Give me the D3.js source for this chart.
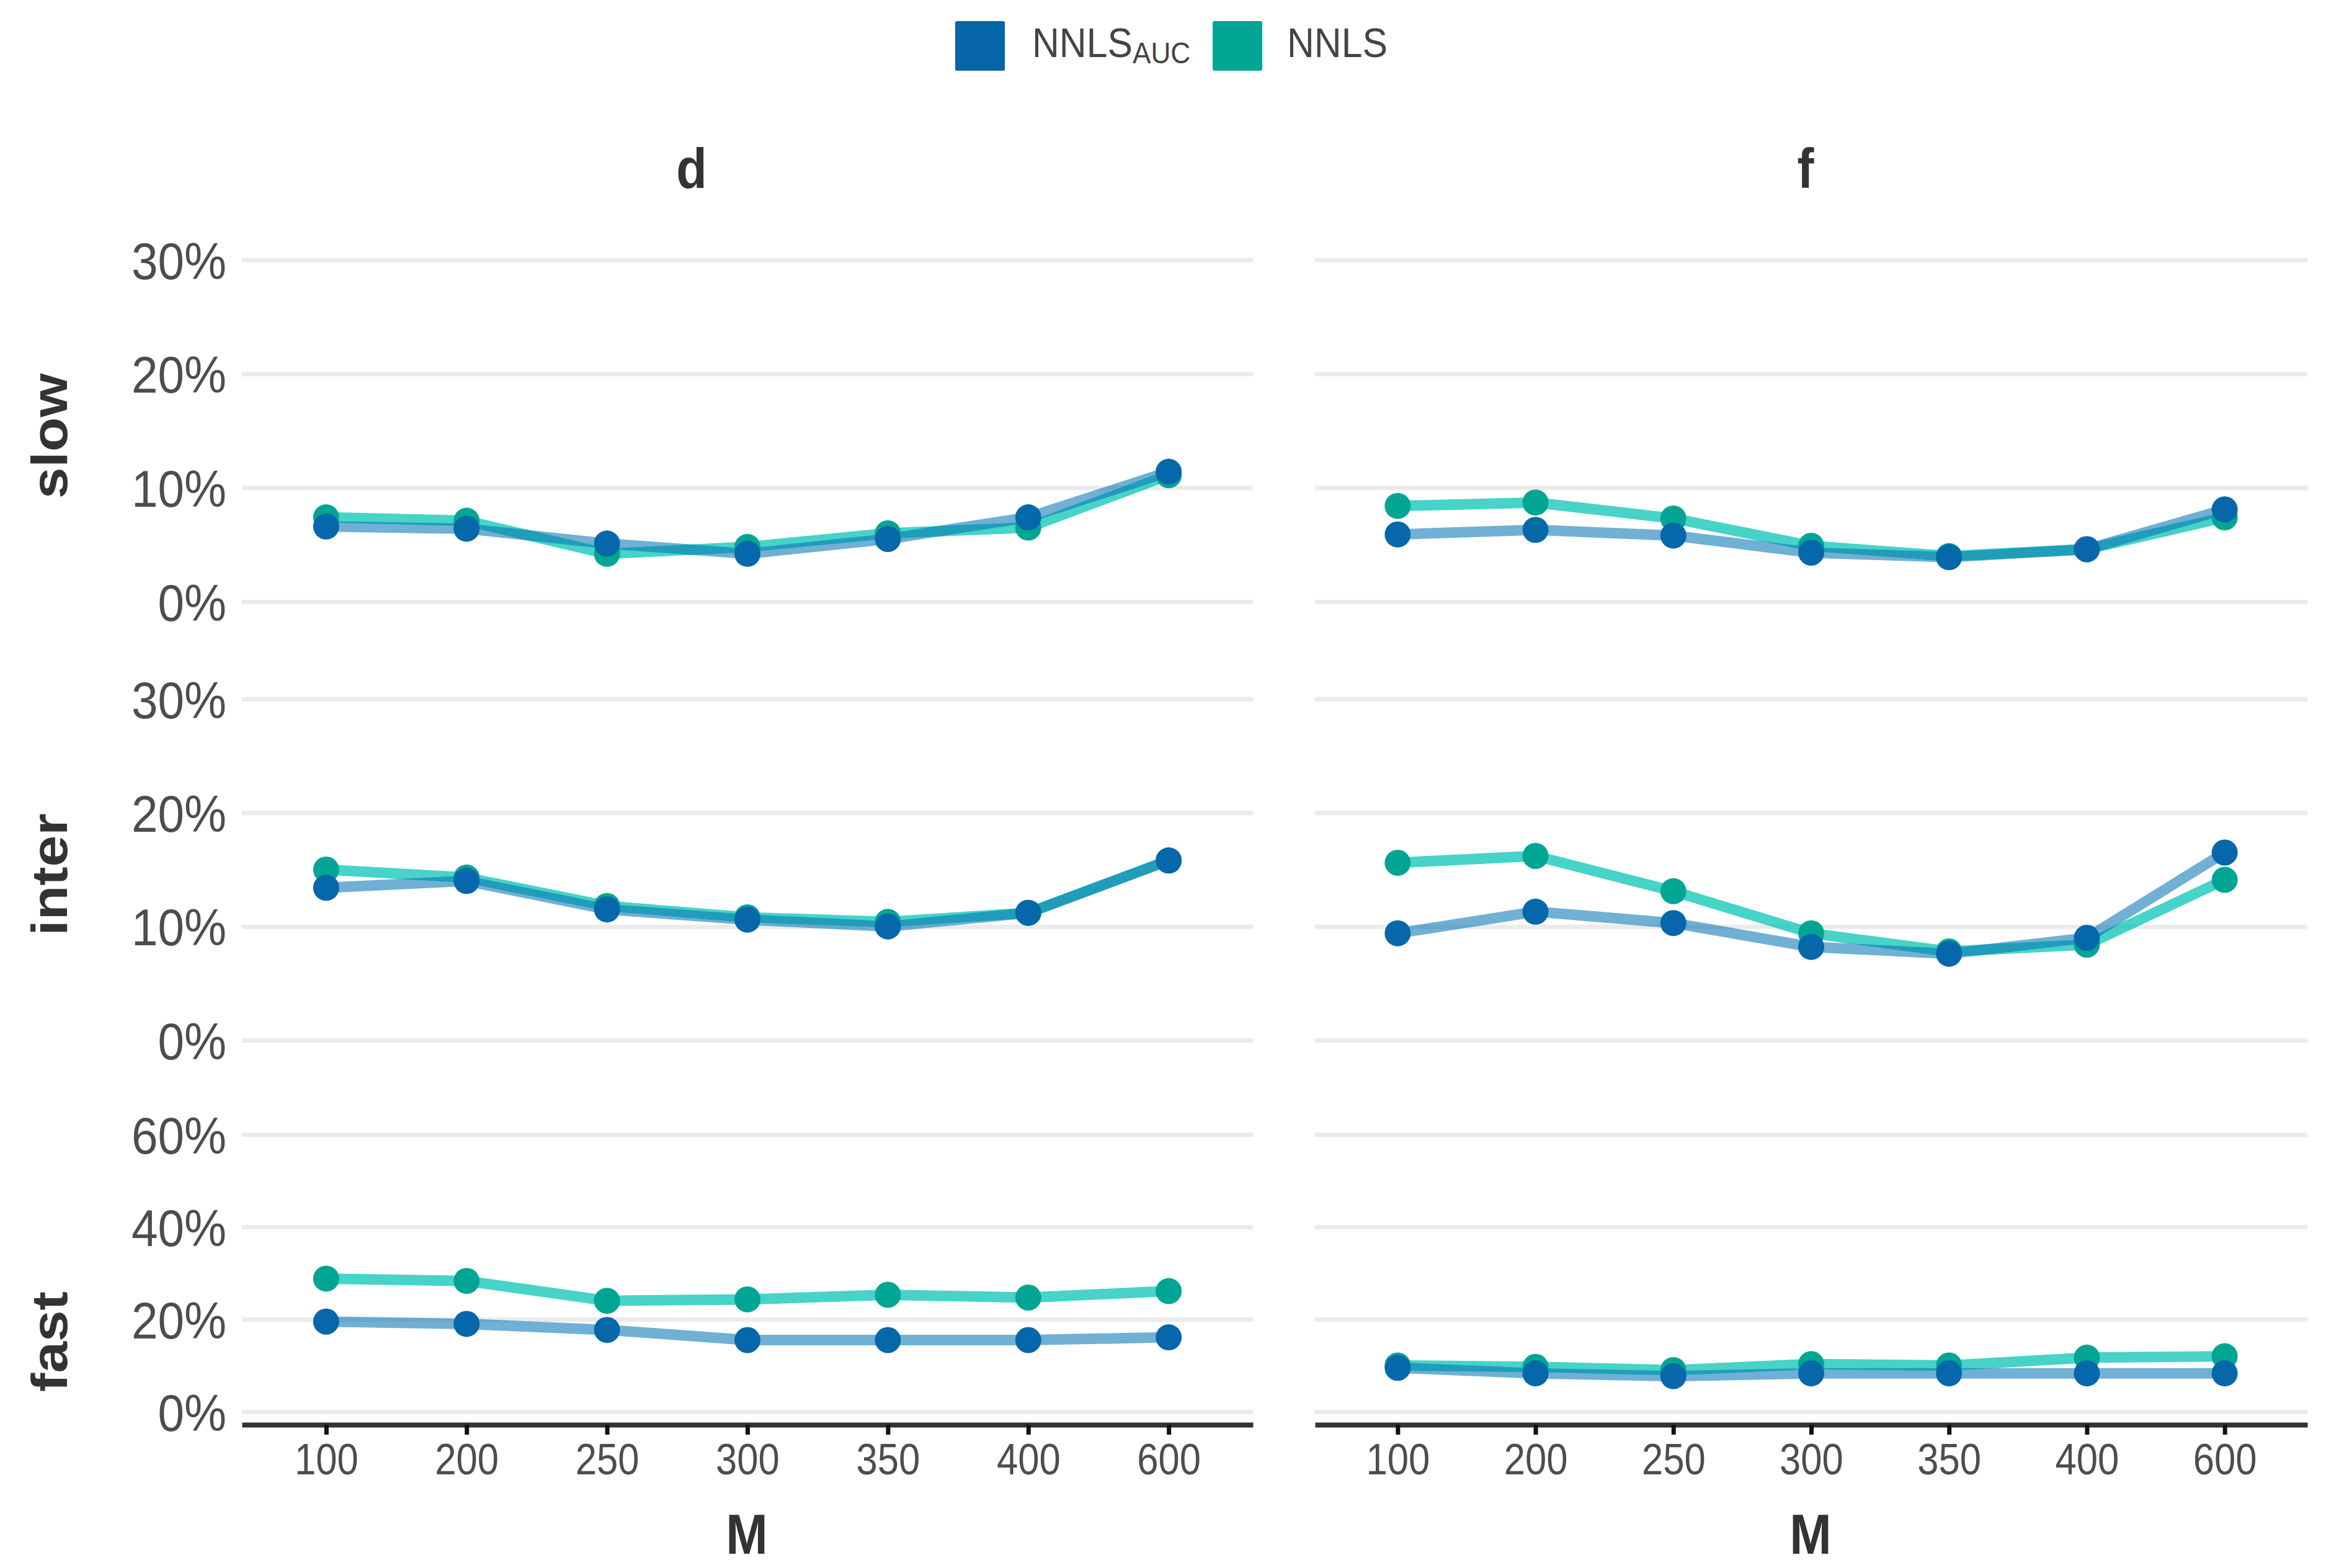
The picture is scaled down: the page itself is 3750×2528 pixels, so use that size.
<!DOCTYPE html>
<html>
<head>
<meta charset="utf-8">
<script src="https://cdn.jsdelivr.net/npm/d3@7"></script>
<style>
  body { margin: 0; background: #fff; }
  text { font-family: "Liberation Sans", Arial, sans-serif; }
</style>
</head>
<body>
<svg id="chart" width="3750" height="2528"></svg>
<script>
// x categories (M) and facet names
var mValues = ["100", "200", "250", "300", "350", "400", "600"];
var columns = ["d", "f"];
var rows = ["slow", "inter", "fast"];

// percent values, per row / column, per method
var slowD_auc  = [6.6, 6.4, 5.1, 4.2, 5.5, 7.4, 11.4];
var slowD_nnls = [7.4, 7.1, 4.2, 4.8, 6.0, 6.5, 11.1];
var slowF_auc  = [5.9, 6.3, 5.8, 4.3, 3.9, 4.6, 8.1];
var slowF_nnls = [8.4, 8.7, 7.3, 4.9, 4.0, 4.6, 7.4];

var interD_auc  = [13.4, 14.0, 11.5, 10.6, 10.0, 11.2, 15.8];
var interD_nnls = [15.0, 14.3, 11.8, 10.8, 10.4, 11.2, 15.8];
var interF_auc  = [9.4, 11.3, 10.3, 8.2, 7.6, 9.0, 16.5];
var interF_nnls = [15.6, 16.2, 13.1, 9.4, 7.8, 8.4, 14.1];

var fastD_auc  = [19.5, 19.0, 17.7, 15.5, 15.5, 15.5, 16.1];
var fastD_nnls = [28.8, 28.3, 24.0, 24.3, 25.3, 24.7, 26.1];
var fastF_auc  = [9.5, 8.3, 7.7, 8.3, 8.3, 8.3, 8.3];
var fastF_nnls = [10.0, 9.7, 9.0, 10.3, 10.0, 11.7, 12.0];

var yTicksSlow = [0, 10, 20, 30];
var yTicksInter = [0, 10, 20, 30];
var yTicksFast = [0, 20, 40, 60];

var seriesNames = ["NNLS_AUC", "NNLS"];

var data = {
    slow:  { d: [slowD_auc, slowD_nnls],   f: [slowF_auc, slowF_nnls] },
    inter: { d: [interD_auc, interD_nnls], f: [interF_auc, interF_nnls] },
    fast:  { d: [fastD_auc, fastD_nnls],   f: [fastF_auc, fastF_nnls] }
};

var pointColor = { NNLS_AUC: "#0667aa", NNLS: "#00a594" };
var lineColor = { NNLS_AUC: "#0072b2", NNLS: "#00c2b2" };
var lineOpacity = { NNLS_AUC: 0.56, NNLS: 0.72 };

var svg = d3.select("#chart");

// layout
var colRange = { d: [390, 2020], f: [2120, 3720] };
var rowLayout = {
    slow:  { range: [970, 419],  max: 30, ticks: yTicksSlow,  labelY: 703 },
    inter: { range: [1677, 1127], max: 30, ticks: yTicksInter, labelY: 1410 },
    fast:  { range: [2276, 1829], max: 60, ticks: yTicksFast,  labelY: 2163 }
};
var axisY = 2297;

var xScales = {};
columns.forEach(function (c) {
    xScales[c] = d3.scalePoint().domain(mValues).range(colRange[c]).padding(0.6);
});

rows.forEach(function (r) {
    var lay = rowLayout[r];
    var y = d3.scaleLinear().domain([0, lay.max]).range(lay.range);

    columns.forEach(function (c) {
        var x = xScales[c];
        var w = colRange[c][1] - colRange[c][0];

        // grid + y labels
        var ax = d3.axisLeft(y)
            .tickValues(lay.ticks)
            .tickSize(-w)
            .tickPadding(25)
            .tickFormat(c == "d" ? function (d) { return d + "%"; } : "");
        var g = svg.append("g")
            .attr("transform", "translate(" + colRange[c][0] + ",0)")
            .call(ax);
        g.select(".domain").remove();
        g.selectAll(".tick line").attr("stroke", "#ebebeb").attr("stroke-width", 7);
        g.selectAll(".tick text")
            .attr("fill", "#4d4d4d")
            .attr("font-size", 84)
            .attr("dy", "0.36em")
            .attr("transform", function () {
                var tx = d3.select(this).attr("x");
                return "translate(" + tx + ",0) scale(0.91,1)";
            })
            .attr("x", 0);

        var line = d3.line()
            .x(function (d, i) { return x(mValues[i]); })
            .y(function (d) { return y(d); });

        var vals = data[r][c];
        // NNLS line underneath, NNLS_AUC on top
        [1, 0].forEach(function (k) {
            var name = seriesNames[k];
            svg.append("path")
                .datum(vals[k])
                .attr("d", line)
                .attr("fill", "none")
                .attr("stroke", lineColor[name])
                .attr("stroke-opacity", lineOpacity[name])
                .attr("stroke-width", 17)
                .attr("stroke-linejoin", "round");
        });
        [1, 0].forEach(function (k) {
            var name = seriesNames[k];
            svg.append("g").selectAll("circle")
                .data(vals[k])
                .join("circle")
                .attr("cx", function (d, i) { return x(mValues[i]); })
                .attr("cy", function (d) { return y(d); })
                .attr("r", 21)
                .attr("fill", pointColor[name]);
        });
    });

    // row label
    svg.append("text")
        .attr("transform", "translate(108," + lay.labelY + ") rotate(-90) scale(1,0.9)")
        .attr("text-anchor", "middle")
        .attr("font-size", 91)
        .attr("font-weight", "bold")
        .attr("fill", "#333")
        .text(r);
});

// x axes
columns.forEach(function (c) {
    var xa = d3.axisBottom(xScales[c]).tickSize(16).tickPadding(14).tickSizeOuter(0);
    var g = svg.append("g")
        .attr("transform", "translate(0," + axisY + ")")
        .call(xa);
    g.select(".domain").attr("stroke", "#333").attr("stroke-width", 8);
    g.selectAll(".tick line").attr("stroke", "#111").attr("stroke-width", 7);
    g.selectAll(".tick text")
        .attr("fill", "#4d4d4d")
        .attr("font-size", 70)
        .attr("transform", function () {
            return "translate(0," + d3.select(this).attr("y") + ") scale(0.88,1)";
        })
        .attr("y", 0);

    var mid = (colRange[c][0] + colRange[c][1]) / 2;
    svg.append("text")
        .attr("transform", "translate(" + (mid - 1) + ",2505) scale(0.9,1)")
        .attr("text-anchor", "middle")
        .attr("font-size", 90)
        .attr("font-weight", "bold")
        .attr("fill", "#333")
        .text("M");
});

// facet titles
var titleX = { d: 1115, f: 2911 };
columns.forEach(function (c) {
    svg.append("text")
        .attr("transform", "translate(" + titleX[c] + ",303) scale(0.9,1)")
        .attr("text-anchor", "middle")
        .attr("font-size", 90)
        .attr("font-weight", "bold")
        .attr("fill", "#333")
        .text(c);
});

// legend
var legend = svg.append("g");
var keys = [
    { name: "NNLS_AUC", x: 1540, tx: 1664 },
    { name: "NNLS", x: 1955, tx: 2075 }
];
keys.forEach(function (k) {
    legend.append("rect")
        .attr("x", k.x).attr("y", 34)
        .attr("width", 80).attr("height", 80)
        .attr("rx", 3)
        .attr("fill", k.name == "NNLS_AUC" ? "#0565a6" : "#00a693");
    var t = legend.append("text")
        .attr("transform", "translate(" + k.tx + ",92) scale(0.92,1)")
        .attr("font-size", 66)
        .attr("fill", "#444");
    t.append("tspan").text("NNLS");
    if (k.name == "NNLS_AUC") {
        t.append("tspan").attr("font-size", 48).attr("dy", 10).text("AUC");
    }
});
</script>
</body>
</html>
